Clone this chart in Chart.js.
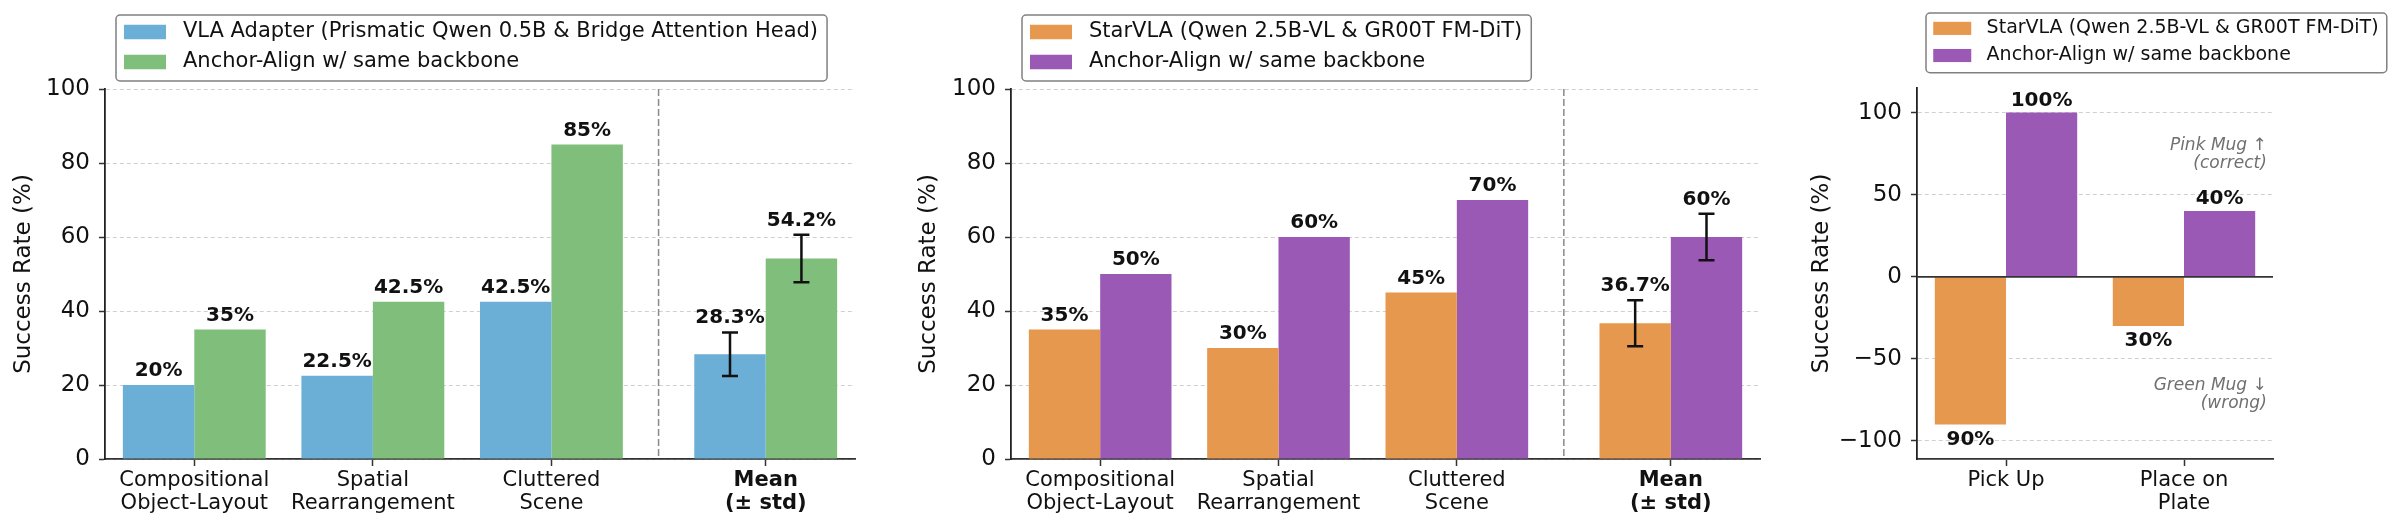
<!DOCTYPE html>
<html>
<head>
<meta charset="utf-8">
<script src="https://cdn.jsdelivr.net/npm/chart.js@4.4.1/dist/chart.umd.min.js"></script>
<style>
  body { margin: 0; background: #fff; width: 2400px; height: 530px; position: relative; overflow: hidden; }
  canvas { position: absolute; top: 0; }
</style>
</head>
<body>
<canvas id="chartVla" width="870" height="530" style="left:0px"></canvas>
<canvas id="chartStar" width="900" height="530" style="left:870px"></canvas>
<canvas id="chartMug" width="630" height="530" style="left:1770px"></canvas>
<script>
// --- données des trois panneaux ---
const taskLabels = [['Compositional', 'Object-Layout'], ['Spatial', 'Rearrangement'], ['Cluttered', 'Scene'], ['Mean', '(± std)']];
const taskX = [0, 1, 2, 3.2];     // la moyenne est un peu décalée à droite
const meanX = 3.2;
const dividerX = 2.6;

const vlaAdapter = [20, 22.5, 42.5, 28.3];
const vlaAdapterStd = [0, 0, 0, 5.9];
const anchorVla = [35, 42.5, 85, 54.2];
const anchorVlaStd = [0, 0, 0, 6.4];

const starVla = [35, 30, 45, 36.7];
const starVlaStd = [0, 0, 0, 6.2];
const anchorStar = [50, 60, 70, 60];
const anchorStarStd = [0, 0, 0, 6.3];

const mugLabels = ['Pick Up', ['Place on', 'Plate']];
const mugX = [0, 1];
const starMug = [-90, -30];
const anchorMug = [100, 40];

const rateTicks = [0, 20, 40, 60, 80, 100];
const mugTicks = [-100, -50, 0, 50, 100];

const FONT = "'DejaVu Sans', sans-serif";
const BLUE = '#6baed6', GREEN = '#7fbf7b', ORANGE = '#e6984e', PURPLE = '#9b59b6';

// Plugin : séparateur, ligne zéro, barres d'erreur, étiquettes, notes et légende encadrée
const decorPlugin = {
    id: 'decor',
    afterDatasetsDraw(chart, args, opts) {
        const ctx = chart.ctx;
        const xs = chart.scales.x, ys = chart.scales.y;
        const area = chart.chartArea;
        ctx.save();

        if (opts.divider != null) {
            const px = xs.getPixelForValue(opts.divider);
            ctx.strokeStyle = '#8a8a8a';
            ctx.lineWidth = 1.5;
            ctx.setLineDash([7, 3]);
            ctx.beginPath();
            ctx.moveTo(px, area.top);
            ctx.lineTo(px, area.bottom);
            ctx.stroke();
            ctx.setLineDash([]);
        }

        if (opts.zeroLine) {
            const py = ys.getPixelForValue(0);
            ctx.strokeStyle = '#333';
            ctx.lineWidth = 1.8;
            ctx.beginPath();
            ctx.moveTo(area.left, py);
            ctx.lineTo(area.right, py);
            ctx.stroke();
        }

        chart.data.datasets.forEach((ds, di) => {
            const meta = chart.getDatasetMeta(di);
            meta.data.forEach((bar, i) => {
                const v = ds.data[i].y;
                const err = ds.errors ? ds.errors[i] : 0;
                let topVal = v;
                if (err) {
                    const yTop = ys.getPixelForValue(v + err);
                    const yBot = ys.getPixelForValue(v - err);
                    ctx.strokeStyle = '#111';
                    ctx.lineWidth = 2.5;
                    ctx.beginPath();
                    ctx.moveTo(bar.x, yTop); ctx.lineTo(bar.x, yBot);
                    ctx.moveTo(bar.x - 8, yTop); ctx.lineTo(bar.x + 8, yTop);
                    ctx.moveTo(bar.x - 8, yBot); ctx.lineTo(bar.x + 8, yBot);
                    ctx.stroke();
                    topVal = v + err;
                }
                ctx.font = 'bold 20px ' + FONT;
                ctx.fillStyle = '#111';
                ctx.textAlign = 'center';
                ctx.textBaseline = 'alphabetic';
                const txt = Math.abs(v) + '%';
                if (v >= 0) {
                    ctx.fillText(txt, bar.x, ys.getPixelForValue(topVal) - opts.labelGap);
                } else {
                    ctx.fillText(txt, bar.x, ys.getPixelForValue(v) + 20);
                }
            });
        });

        (opts.notes || []).forEach(n => {
            ctx.font = 'italic 17px ' + FONT;
            ctx.fillStyle = '#707070';
            ctx.textAlign = 'right';
            ctx.textBaseline = 'middle';
            const px = xs.getPixelForValue(n.x);
            const py = ys.getPixelForValue(n.y);
            ctx.fillText(n.lines[0], px, py - 9);
            ctx.fillText(n.lines[1], px, py + 9);
        });
        ctx.restore();
    },
    afterDraw(chart, args, opts) {
        const lg = opts.legend;
        if (!lg) return;
        const ctx = chart.ctx;
        const s = lg.fontSize / 21;
        ctx.save();
        ctx.font = lg.fontSize + 'px ' + FONT;
        const left = chart.chartArea.left + lg.dx;
        const top = lg.top;
        const textX = left + 67 * s;
        const widths = chart.data.datasets.map(ds => ctx.measureText(ds.label).width);
        const right = textX + Math.max(...widths) + 9 * s;
        const h = 66 * s;

        ctx.fillStyle = '#fff';
        ctx.strokeStyle = '#808080';
        ctx.lineWidth = 1.5;
        ctx.beginPath();
        ctx.roundRect(left, top, right - left, h, 4);
        ctx.fill();
        ctx.stroke();

        chart.data.datasets.forEach((ds, k) => {
            const cy = top + 17 * s + k * 30 * s;
            ctx.fillStyle = ds.backgroundColor;
            ctx.fillRect(left + 8 * s, cy - 7.25 * s, 42 * s, 14.5 * s);
            ctx.fillStyle = '#111';
            ctx.textAlign = 'left';
            ctx.textBaseline = 'middle';
            ctx.fillText(ds.label, textX, cy);
        });
        ctx.restore();
    }
};

function buildChart(id, p) {
    const ctx = document.getElementById(id).getContext('2d');
    return new Chart(ctx, {
        type: 'bar',
        data: {
            datasets: p.series.map(s => ({
                label: s.label,
                backgroundColor: s.color,
                borderWidth: 0,
                data: p.xs.map((x, i) => ({ x: x, y: s.values[i] })),
                errors: s.errors,
                categoryPercentage: 0.8,
                barPercentage: 1.0
            }))
        },
        options: {
            responsive: false,
            animation: false,
            devicePixelRatio: 1,
            layout: { padding: { top: p.top, right: p.padRight, left: 0, bottom: 0 } },
            plugins: {
                legend: { display: false },
                tooltip: { enabled: false },
                decor: { divider: p.divider, zeroLine: p.zeroLine, notes: p.notes, labelGap: p.labelGap, legend: p.legend }
            },
            scales: {
                x: {
                    type: 'linear',
                    min: p.xMin,
                    max: p.xMax,
                    offset: false,
                    afterBuildTicks: sc => { sc.ticks = p.xs.map(v => ({ value: v })); },
                    afterFit: sc => { sc.height = 71; },
                    grid: { offset: false, drawOnChartArea: false, drawTicks: true, tickLength: 7, tickColor: '#333', tickWidth: 1.5 },
                    border: { color: '#333', width: 1.8 },
                    ticks: {
                        autoSkip: false,
                        maxRotation: 0,
                        padding: 3,
                        color: '#111',
                        callback: (v, i) => p.labels[i],
                        font: c => ({
                            family: FONT, size: 21, lineHeight: 1.1,
                            weight: (c.tick && c.tick.value === p.boldX) ? 'bold' : 'normal'
                        })
                    }
                },
                y: {
                    min: p.yMin,
                    max: p.yMax,
                    afterBuildTicks: sc => { sc.ticks = p.yTicks.map(v => ({ value: v })); },
                    afterFit: sc => { sc.width = p.yWidth; },
                    grid: { color: '#d0d0d0', lineWidth: 1, tickLength: 6, tickColor: '#333', tickWidth: 1.5 },
                    border: { color: '#222', width: 1.8, dash: [4, 3] },
                    title: {
                        display: true,
                        text: 'Success Rate (%)',
                        color: '#111',
                        font: { family: FONT, size: 23 },
                        padding: { top: p.titlePad, bottom: 0 }
                    },
                    ticks: {
                        padding: 9,
                        color: '#111',
                        font: { family: FONT, size: 23 },
                        callback: v => v < 0 ? '\u2212' + Math.abs(v) : String(v)
                    }
                }
            }
        },
        plugins: [decorPlugin]
    });
}

buildChart('chartVla', {
    xs: taskX, labels: taskLabels, boldX: meanX, divider: dividerX,
    series: [
        { label: 'VLA Adapter (Prismatic Qwen 0.5B & Bridge Attention Head)', color: BLUE, values: vlaAdapter, errors: vlaAdapterStd },
        { label: 'Anchor-Align w/ same backbone', color: GREEN, values: anchorVla, errors: anchorVlaStd }
    ],
    xMin: -0.5, xMax: 3.7, yMin: 0, yMax: 100, yTicks: rateTicks,
    top: 89, padRight: 15, yWidth: 105, titlePad: 10.2, labelGap: 9,
    legend: { dx: 11, top: 15, fontSize: 21 }
});

buildChart('chartStar', {
    xs: taskX, labels: taskLabels, boldX: meanX, divider: dividerX,
    series: [
        { label: 'StarVLA (Qwen 2.5B-VL & GR00T FM-DiT)', color: ORANGE, values: starVla, errors: starVlaStd },
        { label: 'Anchor-Align w/ same backbone', color: PURPLE, values: anchorStar, errors: anchorStarStd }
    ],
    xMin: -0.5, xMax: 3.7, yMin: 0, yMax: 100, yTicks: rateTicks,
    top: 89, padRight: 10, yWidth: 141, titlePad: 45.2, labelGap: 9,
    legend: { dx: 11, top: 15, fontSize: 21 }
});

buildChart('chartMug', {
    xs: mugX, labels: mugLabels, boldX: null, divider: null, zeroLine: true,
    series: [
        { label: 'StarVLA (Qwen 2.5B-VL & GR00T FM-DiT)', color: ORANGE, values: starMug },
        { label: 'Anchor-Align w/ same backbone', color: PURPLE, values: anchorMug }
    ],
    notes: [
        { x: 1.465, y: 74.5, lines: ['Pink Mug \u2191', '(correct)'] },
        { x: 1.465, y: -71.5, lines: ['Green Mug \u2193', '(wrong)'] }
    ],
    xMin: -0.5, xMax: 1.5, yMin: -111, yMax: 115, yTicks: mugTicks,
    top: 88, padRight: 127, yWidth: 147, titlePad: 38.2, labelGap: 7,
    legend: { dx: 9, top: 13, fontSize: 19 }
});
</script>
</body>
</html>
